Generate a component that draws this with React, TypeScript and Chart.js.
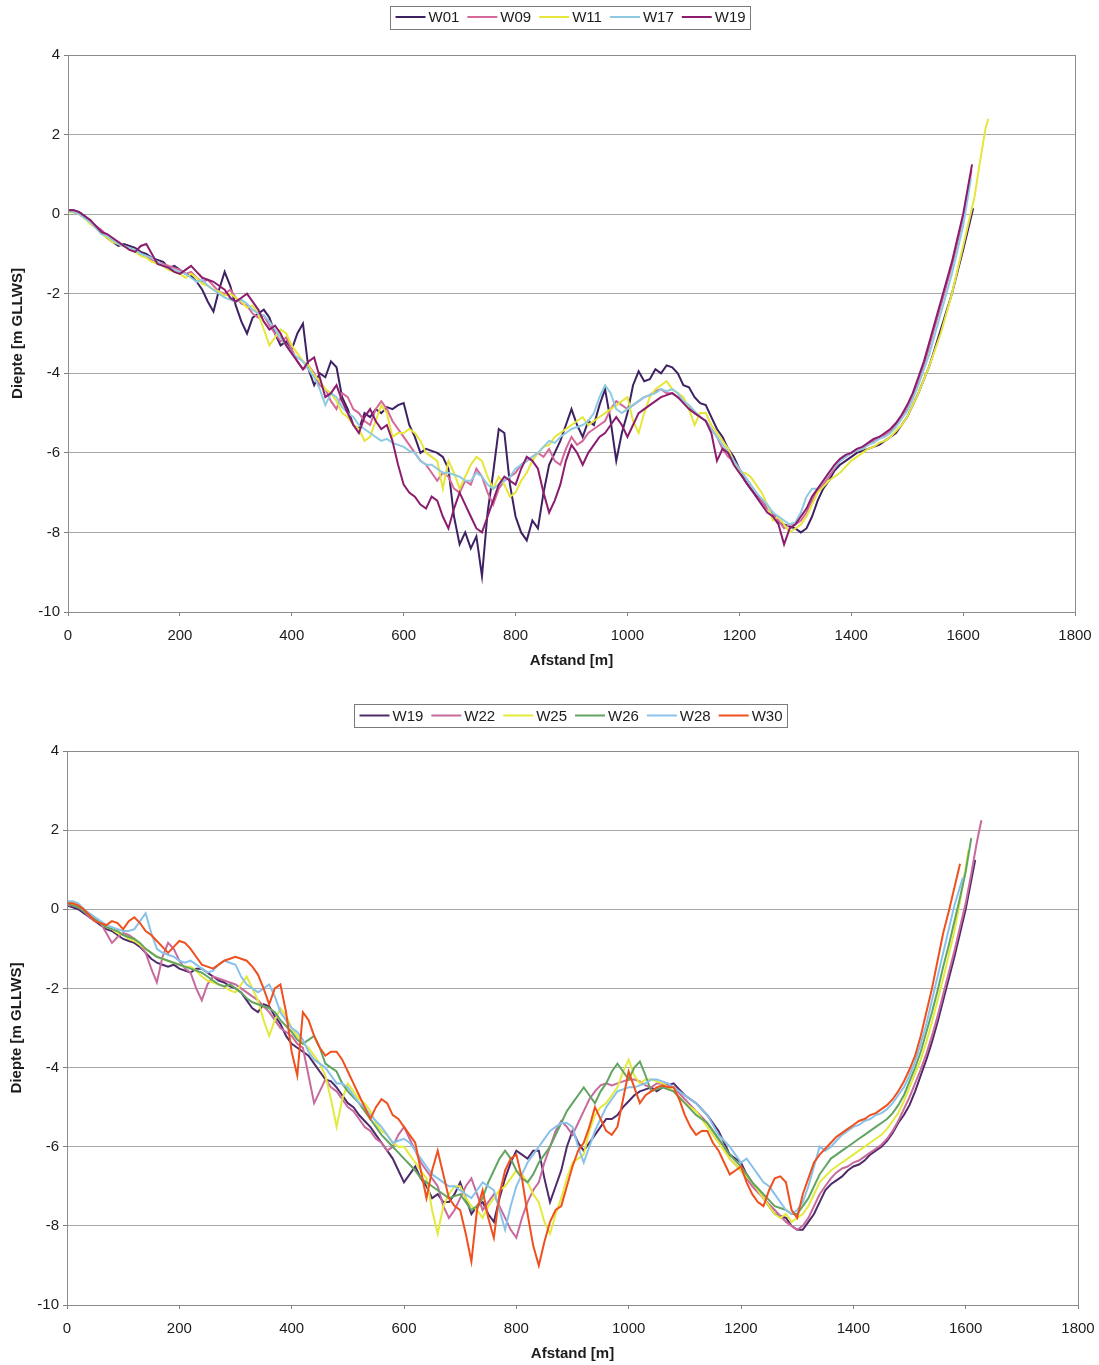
import React, { useEffect, useRef } from "react";
import { Chart, registerables } from "chart.js";

Chart.register(...registerables);

const FONT = "'Liberation Sans', Arial, Helvetica, sans-serif";
const TEXT = "#1c1c1c";

// Distance along the profile (m), shared 10 m sampling grid
const DIST = [
  0, 10, 20, 30, 40, 50, 60, 70, 80, 90, 100, 110, 120, 130, 140, 150, 160, 170, 180, 190,
  200, 210, 220, 230, 240, 250, 260, 270, 280, 290, 300, 310, 320, 330, 340, 350, 360, 370, 380, 390,
  400, 410, 420, 430, 440, 450, 460, 470, 480, 490, 500, 510, 520, 530, 540, 550, 560, 570, 580, 590,
  600, 610, 620, 630, 640, 650, 660, 670, 680, 690, 700, 710, 720, 730, 740, 750, 760, 770, 780, 790,
  800, 810, 820, 830, 840, 850, 860, 870, 880, 890, 900, 910, 920, 930, 940, 950, 960, 970, 980, 990,
  1000, 1010, 1020, 1030, 1040, 1050, 1060, 1070, 1080, 1090, 1100, 1110, 1120, 1130, 1140, 1150, 1160, 1170, 1180, 1190,
  1200, 1210, 1220, 1230, 1240, 1250, 1260, 1270, 1280, 1290, 1300, 1310, 1320, 1330, 1340, 1350, 1360, 1370, 1380, 1390,
  1400, 1410, 1420, 1430, 1440, 1450, 1460, 1470, 1480, 1490, 1500, 1510, 1520, 1530, 1540, 1550, 1560, 1570, 1580, 1590,
  1600, 1610, 1620, 1630, 1640,
];

const X_TICKS = [0, 200, 400, 600, 800, 1000, 1200, 1400, 1600, 1800];
const Y_TICKS = [-10, -8, -6, -4, -2, 0, 2, 4];

// ---------- upper panel: W01, W09, W11, W17, W19 ----------
const TOP_NAMES = ["W01", "W09", "W11", "W17", "W19"];
const TOP_COLORS = ["#3d2163", "#d4689a", "#e6e63a", "#8fcbe0", "#8c1d6e"];

const T_W01 = [
  0.1, 0.1, 0.05, -0.05, -0.2, -0.3, -0.45, -0.6, -0.7, -0.8, -0.75, -0.8, -0.85, -0.95, -1.0, -1.1, -1.15, -1.2, -1.35, -1.3,
  -1.4, -1.5, -1.55, -1.7, -1.9, -2.2, -2.45, -1.9, -1.45, -1.8, -2.3, -2.7, -3.0, -2.6, -2.5, -2.4, -2.6, -3.0, -3.3, -3.2,
  -3.4, -3.0, -2.75, -3.9, -4.3, -4.0, -4.1, -3.7, -3.85, -4.6, -4.9, -5.3, -5.4, -5.0, -5.1, -4.9, -5.0, -4.85, -4.9, -4.8,
  -4.75, -5.3, -5.6, -6.0, -5.9, -5.95, -6.0, -6.1, -6.4, -7.6, -8.3, -8.0, -8.4, -8.1, -9.1, -7.5, -6.5, -5.4, -5.5, -6.8,
  -7.6, -8.0, -8.2, -7.7, -7.9, -7.0, -6.3, -6.0, -5.7, -5.3, -4.9, -5.3, -5.6, -5.2, -5.3, -4.8, -4.4, -5.2, -6.2, -5.5,
  -5.0, -4.3, -3.95, -4.2, -4.15, -3.9, -4.0, -3.8, -3.85, -4.0, -4.3, -4.35, -4.6, -4.75, -4.8, -5.1, -5.4, -5.6, -5.9, -6.1,
  -6.4, -6.7, -6.9, -7.05, -7.2, -7.4, -7.5, -7.75, -7.8, -7.85, -7.9, -8.0, -7.9, -7.6, -7.2, -6.9, -6.7, -6.45, -6.3, -6.2,
  -6.1, -6.0, -5.95, -5.9, -5.85, -5.8, -5.7, -5.6, -5.5, -5.3, -5.1, -4.8, -4.5, -4.15, -3.8, -3.35, -2.9, -2.45, -2.0, -1.45,
  -0.9,
];
const T_W09 = [
  0.1, 0.05, 0.0, -0.1, -0.2, -0.3, -0.4, -0.55, -0.65, -0.7, -0.8, -0.85, -0.9, -1.0, -1.05, -1.15, -1.2, -1.25, -1.3, -1.35,
  -1.4, -1.5, -1.45, -1.6, -1.7, -1.65, -1.8, -1.95, -2.0, -1.9, -2.1, -2.25, -2.3, -2.5, -2.6, -2.55, -2.8, -3.0, -3.2, -3.1,
  -3.4, -3.7, -3.9, -3.8, -4.0, -4.3, -4.4, -4.7, -4.9, -4.5, -4.6, -4.9, -5.0, -5.2, -5.3, -4.9, -4.7, -4.9, -5.2, -5.4,
  -5.6, -5.8, -6.0, -6.2, -6.3, -6.5, -6.7, -6.5, -6.6, -6.9, -7.0, -6.7, -6.8, -6.4, -6.6, -7.0, -7.3, -6.9, -6.7, -6.6,
  -6.5, -6.3, -6.2, -6.1, -6.0, -6.1, -5.9, -6.2, -6.3, -5.9, -5.6, -5.8, -5.7, -5.5, -5.4, -5.3, -5.2, -4.9, -4.7, -4.8,
  -4.9, -4.8, -4.7, -4.6, -4.55, -4.45, -4.4, -4.5, -4.5, -4.6, -4.7, -4.85, -5.0, -5.1, -5.2, -5.4, -5.6, -5.9, -6.1, -6.2,
  -6.4, -6.6, -6.8, -7.0, -7.2, -7.4, -7.55, -7.7, -7.9, -7.8, -7.8, -7.7, -7.5, -7.2, -6.95, -6.8, -6.6, -6.4, -6.2, -6.1,
  -6.0, -5.95, -5.9, -5.8, -5.7, -5.6, -5.55, -5.45, -5.3, -5.1, -4.9, -4.6, -4.2, -3.8, -3.3, -2.8, -2.3, -1.8, -1.3, -0.7,
  -0.1,
];
const T_W11 = [
  0.05, 0.05, 0.0, -0.1, -0.25, -0.35, -0.5, -0.6, -0.7, -0.75, -0.8, -0.9, -0.95, -1.05, -1.1, -1.2, -1.25, -1.3, -1.4, -1.45,
  -1.5, -1.6, -1.5, -1.6, -1.75, -1.8, -1.9, -1.95, -2.05, -2.0, -2.1, -2.2, -2.35, -2.3, -2.5, -2.9, -3.3, -3.1, -2.9, -3.0,
  -3.3, -3.5, -3.7, -3.8, -4.05, -4.2, -4.4, -4.5, -4.7, -5.0, -5.1, -5.3, -5.4, -5.7, -5.6, -5.2, -4.8, -5.0, -5.6, -5.5,
  -5.5, -5.4, -5.5, -5.7, -6.0, -6.1, -6.2, -6.9, -6.2, -6.5, -6.9, -6.6, -6.3, -6.1, -6.2, -6.6, -6.9, -6.6, -6.8, -7.1,
  -7.0, -6.7, -6.5, -6.2, -6.0, -5.85, -5.8, -5.6, -5.5, -5.4, -5.3, -5.2, -5.1, -5.3, -5.2, -5.1, -5.0, -4.9, -4.8, -4.7,
  -4.6, -5.2, -5.5, -5.0, -4.6, -4.4, -4.3, -4.2, -4.4, -4.5, -4.6, -4.9, -5.3, -5.0, -5.0, -5.3, -5.5, -5.7, -5.9, -6.2,
  -6.5, -6.5, -6.6, -6.8, -7.0, -7.3, -7.7, -7.6, -7.8, -8.0, -7.9, -7.8, -7.6, -7.3, -7.0, -6.85, -6.7, -6.6, -6.5, -6.35,
  -6.2, -6.1, -6.0, -5.9, -5.85, -5.75, -5.7, -5.6, -5.45, -5.3, -5.1, -4.8, -4.5, -4.15, -3.8, -3.4, -3.0, -2.5, -2.0, -1.4,
  -0.8, -0.2, 0.4, 1.3, 2.15,
];
const T_W17 = [
  0.1, 0.05, 0.0, -0.1, -0.2, -0.35, -0.5, -0.55, -0.65, -0.75, -0.8, -0.85, -0.9, -1.0, -1.05, -1.1, -1.2, -1.3, -1.35, -1.4,
  -1.45, -1.5, -1.6, -1.7, -1.65, -1.8, -1.9, -2.0, -2.1, -2.15, -2.2, -2.15, -2.25, -2.4, -2.5, -2.55, -2.7, -2.9, -3.1, -3.3,
  -3.5, -3.6, -3.7, -3.9, -4.1, -4.4, -4.8, -4.5, -4.6, -4.85, -5.0, -5.1, -5.3, -5.4, -5.5, -5.6, -5.7, -5.65, -5.75, -5.8,
  -5.85, -5.95, -6.0, -6.2, -6.3, -6.3, -6.4, -6.5, -6.5, -6.55, -6.6, -6.7, -6.7, -6.5, -6.6, -6.8, -6.9, -6.8, -6.7, -6.6,
  -6.4, -6.3, -6.2, -6.1, -6.0, -5.85, -5.7, -5.75, -5.6, -5.5, -5.4, -5.35, -5.3, -5.2, -5.0, -4.6, -4.3, -4.5, -4.9, -5.0,
  -4.9, -4.8, -4.7, -4.6, -4.55, -4.5, -4.4, -4.45, -4.4, -4.5, -4.7, -4.8, -4.95, -5.1, -5.2, -5.4, -5.6, -5.8, -6.0, -6.2,
  -6.4, -6.6, -6.8, -7.0, -7.15, -7.3, -7.5, -7.6, -7.7, -7.8, -7.75, -7.5, -7.1, -6.9, -6.9, -6.7, -6.5, -6.35, -6.2, -6.1,
  -6.0, -5.95, -5.9, -5.8, -5.75, -5.65, -5.6, -5.5, -5.35, -5.15, -4.95, -4.65, -4.3, -3.9, -3.5, -3.0, -2.5, -2.0, -1.5, -0.9,
  -0.3,
];
const T_W19 = [
  0.1, 0.1, 0.05, -0.05, -0.15, -0.3, -0.45, -0.5, -0.6, -0.7, -0.8, -0.9, -0.95, -0.8, -0.75, -1.0, -1.25, -1.3, -1.35, -1.45,
  -1.5, -1.4, -1.3, -1.45, -1.6, -1.65, -1.7, -1.8, -1.9, -2.1, -2.2, -2.1, -2.0, -2.2, -2.4, -2.7, -2.9, -2.8, -3.0, -3.3,
  -3.5, -3.7, -3.9, -3.7, -3.6, -4.1, -4.6, -4.5, -4.3, -4.7, -5.0, -5.3, -5.5, -5.1, -4.9, -5.2, -5.4, -5.3, -5.7, -6.3,
  -6.8, -7.0, -7.1, -7.3, -7.4, -7.1, -7.2, -7.6, -7.9, -7.4, -7.0, -7.3, -7.6, -7.9, -8.0, -7.6, -7.2, -6.8, -6.6, -6.7,
  -6.8, -6.4, -6.1, -6.2, -6.4, -7.0, -7.5, -7.2, -6.8, -6.2, -5.8, -6.0, -6.3, -6.0, -5.8, -5.6, -5.5, -5.3, -5.1, -5.3,
  -5.6, -5.3, -5.0, -4.9, -4.8, -4.7, -4.6, -4.55, -4.5, -4.6, -4.75, -4.9, -5.0, -5.1, -5.2, -5.5, -6.2, -5.9, -6.0, -6.3,
  -6.5, -6.7, -6.9, -7.1, -7.3, -7.5, -7.6, -7.8, -8.3, -7.9, -7.8, -7.6, -7.4, -7.1, -6.9, -6.7, -6.5, -6.3, -6.15, -6.05,
  -6.0, -5.9, -5.85, -5.75, -5.65, -5.6, -5.5, -5.4, -5.25, -5.05, -4.8, -4.5, -4.1, -3.7, -3.2, -2.7, -2.2, -1.7, -1.2, -0.6,
  0.0,
];
const TOP_END_DIST = [1618, 1615, 1645, 1614, 1616];
const TOP_END_DEPTH = [0.15, 1.1, 2.4, 0.9, 1.25];

// ---------- lower panel: W19, W22, W25, W26, W28, W30 ----------
const BOT_NAMES = ["W19", "W22", "W25", "W26", "W28", "W30"];
const BOT_COLORS = ["#4f2a6b", "#c86a9e", "#e2ea3c", "#62a562", "#88c2ea", "#f0501e"];

const B_W19 = [
  0.1, 0.05, 0.0, -0.1, -0.2, -0.3, -0.4, -0.5, -0.55, -0.65, -0.75, -0.8, -0.85, -0.95, -1.1, -1.25, -1.35, -1.4, -1.45, -1.4,
  -1.5, -1.55, -1.6, -1.5, -1.5, -1.6, -1.7, -1.8, -1.85, -1.95, -2.0, -2.1, -2.3, -2.5, -2.6, -2.4, -2.45, -2.7, -2.9, -3.2,
  -3.4, -3.5, -3.6, -3.7, -3.9, -4.1, -4.3, -4.35, -4.5, -4.7, -4.9, -5.0, -5.2, -5.35, -5.5, -5.7, -5.9, -6.1, -6.3, -6.6,
  -6.9, -6.7, -6.5, -6.8, -7.0, -7.3, -7.2, -7.4, -7.4, -7.2, -6.9, -7.3, -7.7, -7.5, -7.4, -7.7, -7.9, -7.3, -6.8, -6.4,
  -6.1, -6.2, -6.3, -6.1, -6.1, -6.8, -7.4, -7.0, -6.6, -6.0, -5.6, -5.9, -6.1, -5.9, -5.7, -5.5, -5.3, -5.3, -5.2, -5.0,
  -4.85, -4.7, -4.6, -4.55, -4.5, -4.6, -4.5, -4.45, -4.4, -4.55, -4.7, -4.8, -4.9, -5.05, -5.2, -5.4, -5.6, -5.9, -6.2, -6.3,
  -6.4, -6.7, -6.9, -7.1, -7.3, -7.5, -7.7, -7.75, -7.8, -8.0, -8.1, -8.1, -7.9, -7.7, -7.4, -7.1, -6.95, -6.85, -6.75, -6.6,
  -6.5, -6.45, -6.35, -6.2, -6.1, -6.0, -5.85, -5.65, -5.4, -5.2, -4.95, -4.6, -4.2, -3.8, -3.35, -2.85, -2.3, -1.75, -1.2, -0.6,
  0.0,
];
const B_W22 = [
  0.1, 0.1, 0.05, -0.05, -0.2, -0.3, -0.35, -0.6, -0.85, -0.7, -0.6, -0.65, -0.75, -0.9, -1.1, -1.5, -1.85, -1.2, -0.85, -1.0,
  -1.3, -1.5, -1.6, -2.0, -2.3, -1.9, -1.7, -1.75, -1.8, -1.85, -1.9, -2.0, -2.1, -2.2, -2.3, -2.45, -2.6, -2.8, -3.0, -3.1,
  -3.2, -3.4, -3.5, -4.2, -4.9, -4.6, -4.3, -4.5, -4.6, -4.8, -5.0, -5.1, -5.3, -5.5, -5.6, -5.8, -5.9, -6.1, -6.0, -5.7,
  -5.5, -5.8, -6.1, -6.4, -6.6, -6.8, -7.0, -7.5, -7.8, -7.6, -7.3, -7.0, -6.8, -7.2, -7.6, -7.4, -7.2, -7.5, -7.8, -8.1,
  -8.3, -7.8, -7.4, -7.1, -6.9, -6.4, -6.0, -5.6, -5.35, -5.5, -5.7, -5.4, -5.1, -4.8, -4.6, -4.45, -4.4, -4.45, -4.4, -4.35,
  -4.3, -4.3, -4.35, -4.45, -4.5, -4.4, -4.4, -4.45, -4.5, -4.65, -4.8, -4.95, -5.1, -5.25, -5.4, -5.6, -5.8, -6.0, -6.3, -6.45,
  -6.6, -6.8, -7.0, -7.15, -7.3, -7.45, -7.6, -7.75, -7.9, -8.0, -8.1, -8.0, -7.8, -7.5, -7.2, -7.0, -6.8, -6.65, -6.55, -6.5,
  -6.4, -6.35, -6.25, -6.15, -6.05, -5.95, -5.8, -5.6, -5.35, -5.05, -4.75, -4.4, -4.05, -3.65, -3.2, -2.7, -2.15, -1.6, -1.05, -0.45,
  0.15, 0.9, 1.7,
];
const B_W25 = [
  0.2, 0.15, 0.1, 0.0, -0.15, -0.25, -0.35, -0.45, -0.5, -0.6, -0.65, -0.75, -0.8, -0.9, -1.0, -1.1, -1.2, -1.25, -1.3, -1.35,
  -1.4, -1.45, -1.45, -1.55, -1.7, -1.8, -1.85, -1.9, -1.95, -2.05, -2.1, -1.9, -1.7, -2.0, -2.3, -2.8, -3.2, -2.8, -2.5, -2.7,
  -3.0, -3.2, -3.4, -3.5, -3.7, -3.9, -4.2, -4.8, -5.5, -4.8, -4.4, -4.6, -4.8, -4.9, -5.1, -5.4, -5.6, -5.7, -5.9, -6.0,
  -6.0, -6.2, -6.4, -6.6, -6.8, -7.6, -8.2, -7.5, -7.2, -7.0, -7.0, -7.3, -7.5, -7.6, -7.8, -7.5, -7.3, -7.1, -7.0, -6.8,
  -6.6, -6.7, -6.9, -7.2, -7.4, -7.9, -8.2, -7.7, -7.3, -6.8, -6.4, -6.3, -6.2, -5.6, -5.2, -5.0, -4.9, -4.7, -4.5, -4.1,
  -3.8, -4.2, -4.4, -4.3, -4.3, -4.35, -4.4, -4.5, -4.6, -4.75, -4.9, -5.0, -5.1, -5.3, -5.5, -5.7, -5.9, -6.1, -6.3, -6.45,
  -6.6, -6.75, -6.9, -7.1, -7.3, -7.5, -7.7, -7.8, -7.7, -7.9, -7.8, -7.7, -7.5, -7.2, -6.9, -6.75, -6.6, -6.5, -6.4, -6.3,
  -6.2, -6.1, -6.0, -5.9, -5.8, -5.7, -5.55, -5.35, -5.15, -4.85, -4.5, -4.15, -3.8, -3.35, -2.85, -2.3, -1.75, -1.15, -0.55, 0.2,
  1.05,
];
const B_W26 = [
  0.15, 0.1, 0.05, -0.05, -0.15, -0.25, -0.35, -0.45, -0.5, -0.55, -0.65, -0.7, -0.75, -0.85, -1.0, -1.1, -1.2, -1.25, -1.3, -1.35,
  -1.4, -1.45, -1.5, -1.55, -1.6, -1.7, -1.8, -1.9, -1.95, -1.9, -2.0, -2.1, -2.25, -2.35, -2.4, -2.45, -2.5, -2.6, -2.8, -2.95,
  -3.1, -3.3, -3.4, -3.3, -3.2, -3.5, -3.9, -4.0, -4.1, -4.4, -4.6, -4.75, -4.9, -5.1, -5.3, -5.5, -5.7, -5.85, -6.0, -6.15,
  -6.3, -6.45, -6.6, -6.8, -6.9, -7.0, -7.1, -7.2, -7.3, -7.25, -7.2, -7.4, -7.6, -7.5, -7.3, -6.9, -6.6, -6.3, -6.1, -6.3,
  -6.6, -6.8, -6.9, -6.7, -6.4, -6.2, -6.0, -5.7, -5.4, -5.1, -4.9, -4.7, -4.5, -4.7, -4.9, -4.6, -4.4, -4.1, -3.9, -4.1,
  -4.3, -4.0, -3.85, -4.2, -4.6, -4.55, -4.5, -4.55, -4.6, -4.75, -4.9, -5.05, -5.2, -5.3, -5.4, -5.6, -5.8, -6.0, -6.2, -6.35,
  -6.5, -6.7, -6.9, -7.05, -7.2, -7.35, -7.5, -7.55, -7.6, -7.7, -7.7, -7.5, -7.3, -7.0, -6.7, -6.5, -6.3, -6.2, -6.1, -6.0,
  -5.9, -5.8, -5.7, -5.6, -5.5, -5.4, -5.3, -5.15, -4.95, -4.7, -4.35, -4.0, -3.6, -3.1, -2.6, -2.05, -1.45, -0.9, -0.3, 0.3,
  0.95,
];
const B_W28 = [
  0.2, 0.2, 0.15, 0.0, -0.1, -0.2, -0.3, -0.4, -0.45, -0.5, -0.55, -0.55, -0.5, -0.3, -0.1, -0.6, -1.0, -1.1, -1.15, -1.2,
  -1.3, -1.35, -1.3, -1.4, -1.5, -1.6, -1.55, -1.4, -1.3, -1.35, -1.4, -1.7, -1.9, -2.0, -2.1, -2.0, -1.9, -2.2, -2.6, -2.8,
  -3.0, -3.1, -3.3, -3.6, -3.8, -3.9, -4.0, -4.2, -4.4, -4.4, -4.5, -4.7, -4.9, -5.0, -5.2, -5.35, -5.5, -5.7, -5.9, -5.85,
  -5.8, -5.9, -6.1, -6.3, -6.5, -6.7, -6.8, -6.9, -7.0, -7.0, -7.1, -7.2, -7.3, -7.1, -6.9, -7.0, -7.1, -7.6, -8.1, -7.5,
  -7.0, -6.7, -6.4, -6.2, -6.0, -5.8, -5.6, -5.5, -5.4, -5.4, -5.5, -6.0, -6.4, -6.0, -5.6, -5.3, -5.0, -4.8, -4.6, -4.55,
  -4.5, -4.5, -4.45, -4.4, -4.3, -4.3, -4.35, -4.4, -4.5, -4.6, -4.7, -4.8, -4.9, -5.05, -5.2, -5.45, -5.7, -5.85, -6.0, -6.2,
  -6.4, -6.3, -6.5, -6.7, -6.9, -7.0, -7.2, -7.4, -7.6, -7.7, -7.6, -7.4, -7.0, -6.5, -6.0, -6.1, -6.0, -5.85, -5.7, -5.6,
  -5.5, -5.45, -5.35, -5.3, -5.2, -5.15, -5.05, -4.9, -4.7, -4.5, -4.2, -3.85, -3.4, -2.9, -2.3, -1.7, -1.1, -0.5, 0.1,
];
const B_W30 = [
  0.15, 0.15, 0.1, 0.0, -0.15, -0.3, -0.35, -0.4, -0.3, -0.35, -0.5, -0.3, -0.2, -0.35, -0.55, -0.65, -0.8, -0.95, -1.1, -0.95,
  -0.8, -0.85, -1.0, -1.2, -1.4, -1.45, -1.5, -1.4, -1.3, -1.25, -1.2, -1.25, -1.3, -1.45, -1.65, -2.0, -2.4, -2.0, -1.9, -2.6,
  -3.6, -4.2, -2.6, -2.8, -3.2, -3.5, -3.7, -3.6, -3.6, -3.8, -4.1, -4.4, -4.7, -5.0, -5.3, -5.0, -4.8, -4.9, -5.2, -5.3,
  -5.5, -5.7, -5.9, -6.6, -7.3, -6.6, -6.1, -6.7, -7.3, -7.5, -7.6, -8.2, -8.9, -7.6, -7.1, -7.8, -8.3, -7.2, -6.6, -6.3,
  -6.2, -6.8, -7.7, -8.5, -9.0, -8.4, -7.9, -7.6, -7.5, -7.0, -6.5, -6.1, -5.9, -5.5, -5.0, -5.3, -5.6, -5.7, -5.5, -4.8,
  -4.1, -4.5, -4.9, -4.7, -4.6, -4.5, -4.45, -4.5, -4.5, -4.8, -5.2, -5.5, -5.7, -5.6, -5.6, -5.9, -6.1, -6.4, -6.7, -6.6,
  -6.5, -6.9, -7.2, -7.4, -7.5, -7.1, -6.8, -6.75, -6.9, -7.6, -7.8, -7.2, -6.8, -6.4, -6.2, -6.05, -5.9, -5.75, -5.65, -5.55,
  -5.45, -5.35, -5.3, -5.2, -5.15, -5.05, -4.95, -4.8, -4.6, -4.35, -4.05, -3.7, -3.2, -2.6, -2.0, -1.3, -0.6, -0.05, 0.55,
];
const BOT_END_DIST = [1617, 1628, 1605, 1610, 1595, 1590];
const BOT_END_DEPTH = [1.25, 2.25, 1.5, 1.8, 0.8, 1.15];

type Pt = { x: number; y: number };

function profile(values: number[], endDist: number, endDepth: number): Pt[] {
  const pts: Pt[] = [];
  for (let i = 0; i < values.length; i++) {
    if (DIST[i] < endDist) pts.push({ x: DIST[i], y: values[i] });
  }
  pts.push({ x: endDist, y: endDepth });
  return pts;
}

// Plot-area frame and the boxed series key above it
const frameAndKey = {
  id: "frameAndKey",
  afterDraw(chart: any, _args: any, opts: any) {
    const { ctx, chartArea } = chart;
    ctx.save();
    ctx.strokeStyle = "#8c8c8c";
    ctx.lineWidth = 1;
    ctx.strokeRect(
      Math.round(chartArea.left) + 0.5,
      Math.round(chartArea.top) + 0.5,
      Math.round(chartArea.right - chartArea.left),
      Math.round(chartArea.bottom - chartArea.top)
    );

    ctx.font = `15px ${FONT}`;
    const items = chart.data.datasets.map((ds: any) => ({
      label: ds.label as string,
      color: ds.borderColor as string,
      w: ctx.measureText(ds.label).width,
    }));
    const sample = 30;
    const gapText = 3;
    const gapItem = 8;
    const padX = 5;
    const inner =
      items.reduce((s: number, it: any) => s + sample + gapText + it.w, 0) +
      gapItem * (items.length - 1);
    const boxW = inner + padX * 2;
    const boxH = 23;
    const x0 = Math.round(opts.centerX - boxW / 2) + 0.5;
    const y0 = Math.round(opts.centerY - boxH / 2) + 0.5;
    ctx.fillStyle = "#ffffff";
    ctx.fillRect(x0, y0, boxW, boxH);
    ctx.strokeStyle = "#7a7a7a";
    ctx.strokeRect(x0, y0, Math.round(boxW), boxH);

    let x = x0 + padX;
    const cy = opts.centerY;
    ctx.textBaseline = "middle";
    ctx.textAlign = "left";
    for (const it of items) {
      ctx.strokeStyle = it.color;
      ctx.lineWidth = 2;
      ctx.beginPath();
      ctx.moveTo(x, cy);
      ctx.lineTo(x + sample, cy);
      ctx.stroke();
      ctx.fillStyle = TEXT;
      ctx.fillText(it.label, x + sample + gapText, cy + 1);
      x += sample + gapText + it.w + gapItem;
    }
    ctx.restore();
  },
};

type Area = { left: number; right: number; top: number; bottom: number };

type PanelProps = {
  pageTop: number;
  height: number;
  names: string[];
  colors: string[];
  series: number[][];
  endDist: number[];
  endDepth: number[];
  area: Area;
  xTitleBottom: number;
  yTitleGap: number;
  keyX: number;
  keyY: number;
};

function ProfilePanel(p: PanelProps) {
  const ref = useRef<HTMLCanvasElement>(null);

  useEffect(() => {
    if (!ref.current) return;
    const n = p.names.length;
    const datasets = p.names.map((name, i) => ({
      label: name,
      data: profile(p.series[i], p.endDist[i], p.endDepth[i]),
      borderColor: p.colors[i],
      backgroundColor: p.colors[i],
      borderWidth: 2,
      pointRadius: 0,
      tension: 0,
      fill: false,
      order: n - i,
    }));

    const chart = new Chart(ref.current, {
      type: "line",
      data: { datasets },
      plugins: [frameAndKey],
      options: {
        responsive: false,
        animation: false,
        devicePixelRatio: 1,
        parsing: false,
        layout: {
          padding: { top: p.area.top, right: 1099 - p.area.right, left: 0, bottom: 0 },
        },
        plugins: {
          legend: { display: false },
          tooltip: { enabled: false },
          frameAndKey: { centerX: p.keyX, centerY: p.keyY },
        } as any,
        scales: {
          x: {
            type: "linear",
            min: 0,
            max: 1800,
            afterBuildTicks: (s: any) => {
              s.ticks = X_TICKS.map((v) => ({ value: v }));
            },
            afterFit: (s: any) => {
              s.height = p.height - p.area.bottom;
              s.paddingLeft = 0;
              s.paddingRight = 0;
            },
            ticks: {
              font: { family: FONT, size: 15 },
              color: TEXT,
              padding: 11,
              maxRotation: 0,
              callback: (v: any) => String(v),
            },
            grid: {
              drawOnChartArea: false,
              drawTicks: true,
              tickLength: 4,
              color: "#808080",
            },
            border: { display: true, color: "#808080" },
            title: {
              display: true,
              text: "Afstand [m]",
              font: { family: FONT, size: 15, weight: "bold" },
              color: TEXT,
              padding: { top: 0, bottom: p.xTitleBottom },
            },
          },
          y: {
            type: "linear",
            min: -10,
            max: 4,
            afterBuildTicks: (s: any) => {
              s.ticks = Y_TICKS.map((v) => ({ value: v }));
            },
            afterFit: (s: any) => {
              s.width = p.area.left;
              s.paddingTop = 0;
              s.paddingBottom = 0;
            },
            ticks: {
              font: { family: FONT, size: 15 },
              color: TEXT,
              padding: 4,
              callback: (v: any) => String(v),
            },
            grid: {
              drawTicks: true,
              tickLength: 4,
              color: "#a8a8a8",
              tickColor: "#808080",
            },
            border: { display: true, color: "#808080" },
            title: {
              display: true,
              text: "Diepte [m GLLWS]",
              font: { family: FONT, size: 15, weight: "bold" },
              color: TEXT,
              padding: { top: p.yTitleGap, bottom: 0 },
            },
          },
        },
      } as any,
    });
    return () => chart.destroy();
  }, []);

  return (
    <canvas
      ref={ref}
      width={1099}
      height={p.height}
      style={{ position: "absolute", left: 0, top: p.pageTop, width: 1099, height: p.height, display: "block" }}
    />
  );
}

export default function App() {
  return (
    <div style={{ position: "absolute", left: 0, top: 0, width: 1099, height: 1365, background: "#ffffff", overflow: "hidden" }}>
      <ProfilePanel
        pageTop={0}
        height={690}
        names={TOP_NAMES}
        colors={TOP_COLORS}
        series={[T_W01, T_W09, T_W11, T_W17, T_W19]}
        endDist={TOP_END_DIST}
        endDepth={TOP_END_DEPTH}
        area={{ left: 68, right: 1075, top: 55, bottom: 612 }}
        xTitleBottom={20}
        yTitleGap={9}
        keyX={570}
        keyY={17}
      />
      <ProfilePanel
        pageTop={690}
        height={675}
        names={BOT_NAMES}
        colors={BOT_COLORS}
        series={[B_W19, B_W22, B_W25, B_W26, B_W28, B_W30]}
        endDist={BOT_END_DIST}
        endDepth={BOT_END_DEPTH}
        area={{ left: 67, right: 1078, top: 61, bottom: 615 }}
        xTitleBottom={2}
        yTitleGap={8}
        keyX={571}
        keyY={25.5}
      />
    </div>
  );
}
